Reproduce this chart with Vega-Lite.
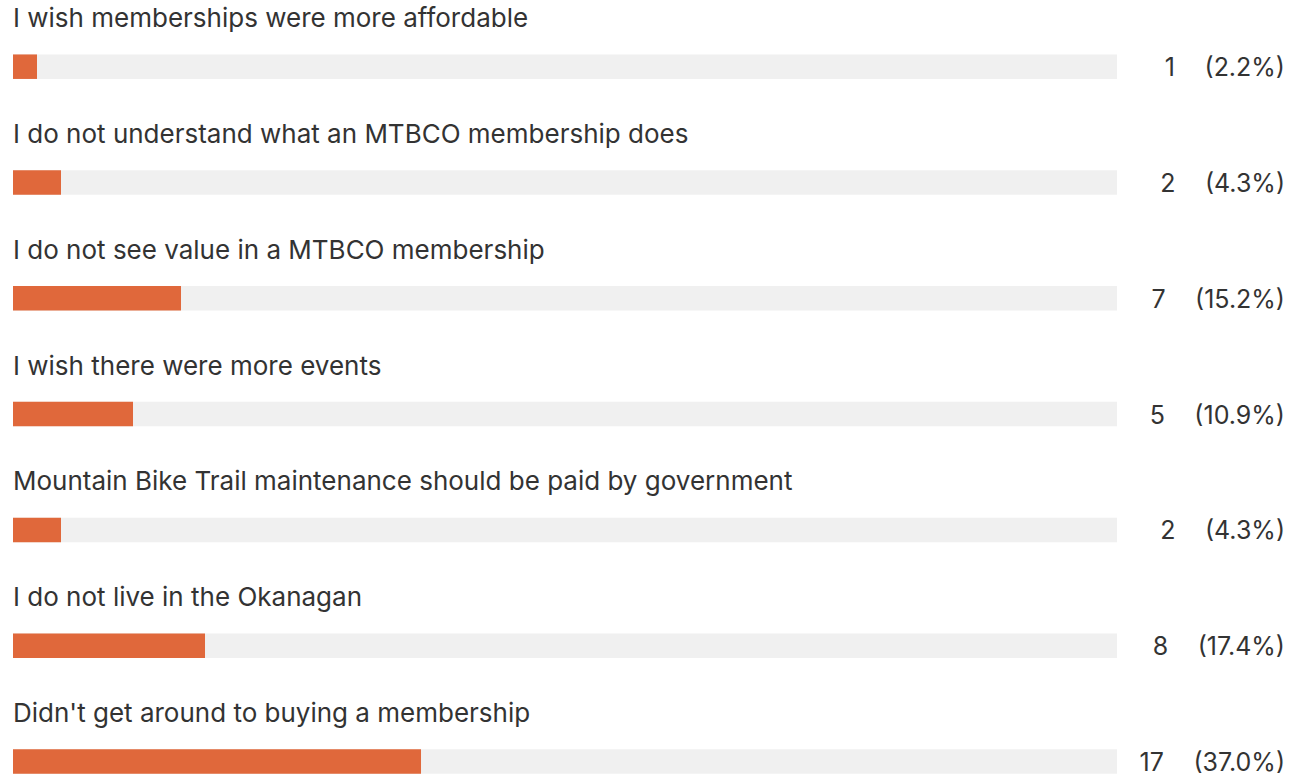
{
  "$schema": "https://vega.github.io/schema/vega-lite/v6.json",
  "width": 1292,
  "height": 776,
  "autosize": "none",
  "padding": 0,
  "background": "#ffffff",
  "config": {"view": {"stroke": null}, "font": "Inter"},
  "data": {
    "values": [
      {"order": 0, "answer": "I wish memberships were more affordable", "count": 1, "total": 46, "result": "1\u2003\u2009(2.2%)"},
      {"order": 1, "answer": "I do not understand what an MTBCO membership does", "count": 2, "total": 46, "result": "2\u2003\u2009(4.3%)"},
      {"order": 2, "answer": "I do not see value in a MTBCO membership", "count": 7, "total": 46, "result": "7\u2003\u2009(15.2%)"},
      {"order": 3, "answer": "I wish there were more events", "count": 5, "total": 46, "result": "5\u2003\u2009(10.9%)"},
      {"order": 4, "answer": "Mountain Bike Trail maintenance should be paid by government", "count": 2, "total": 46, "result": "2\u2003\u2009(4.3%)"},
      {"order": 5, "answer": "I do not live in the Okanagan", "count": 8, "total": 46, "result": "8\u2003\u2009(17.4%)"},
      {"order": 6, "answer": "Didn't get around to buying a membership", "count": 17, "total": 46, "result": "17\u2003\u2009(37.0%)"}
    ]
  },
  "encoding": {
    "y": {"field": "order", "type": "quantitative", "axis": null,
          "scale": {"domain": [-0.576, 6.125], "reverse": true, "nice": false, "zero": false, "padding": 0}}
  },
  "layer": [
    {
      "mark": {"type": "bar", "color": "#f0f0f0", "height": 24.5},
      "encoding": {
        "x": {"field": "total", "type": "quantitative", "axis": null,
              "scale": {"domain": [-0.5417, 53.29], "nice": false, "zero": false, "padding": 0}},
        "x2": {"datum": 0}
      }
    },
    {
      "mark": {"type": "bar", "color": "#e0683b", "height": 24.5},
      "encoding": {
        "x": {"field": "count", "type": "quantitative"},
        "x2": {"datum": 0}
      }
    },
    {
      "mark": {"type": "text", "align": "left", "baseline": "alphabetic", "dy": -39.5, "fontSize": 26, "color": "#333333"},
      "encoding": {
        "x": {"datum": 0},
        "text": {"field": "answer"}
      }
    },
    {
      "mark": {"type": "text", "align": "right", "baseline": "alphabetic", "dy": 9.5, "dx": -7, "fontSize": 25, "color": "#333333"},
      "encoding": {
        "x": {"datum": 53.29},
        "text": {"field": "result"}
      }
    }
  ]
}
